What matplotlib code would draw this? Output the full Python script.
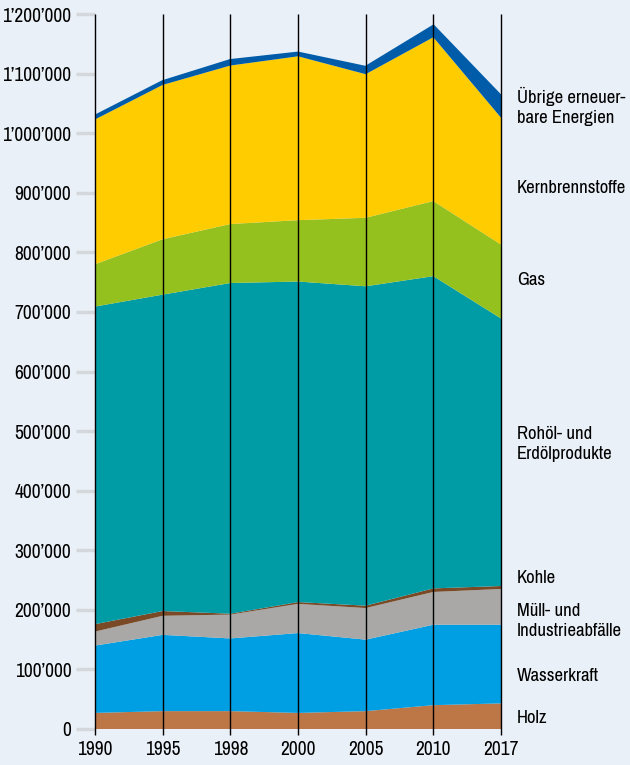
#!/usr/bin/env python3
import matplotlib
matplotlib.use("Agg")
import matplotlib.pyplot as plt
from matplotlib import font_manager
from matplotlib.ticker import FuncFormatter

# Endenergieverbrauch nach Energieträgern
YEARS = ["1990", "1995", "1998", "2000", "2005", "2010", "2017"]
HOLZ = [27000, 30000, 30000, 27000, 30000, 40000, 43000]
WASSERKRAFT = [113000, 128000, 122000, 134000, 120000, 135000, 132000]
MUELL = [23500, 32000, 40000, 49000, 53000, 55000, 60000]
KOHLE = [12500, 8000, 1500, 3000, 4000, 6000, 5000]
ROHOEL = [533000, 531000, 555000, 538000, 536000, 524000, 449000]
GAS = [71000, 93000, 99000, 103000, 115000, 126000, 124000]
KERN = [243000, 259000, 266000, 275000, 241000, 275000, 213000]
UEBRIGE = [5000, 5000, 8000, 5000, 11000, 18000, 35000]

SERIES = [HOLZ, WASSERKRAFT, MUELL, KOHLE, ROHOEL, GAS, KERN, UEBRIGE]
COLORS = ["#bd7645", "#009fe3", "#a9a8a6", "#7a4a26", "#009ca6",
          "#95c11f", "#ffcc00", "#005ca9"]
LABELS = [
    ("Übrige erneuer-\nbare Energien", 1045000),
    ("Kernbrennstoffe", 908000),
    ("Gas", 753000),
    ("Rohöl- und\nErdölprodukte", 479000),
    ("Kohle", 253000),
    ("Müll- und\nIndustrieabfälle", 182000),
    ("Wasserkraft", 89000),
    ("Holz", 18000),
]

BG = "#eaf0f7"


def pick_narrow_font():
    # most condensed regular sans face available, else DejaVu Sans
    fonts = [f for f in font_manager.fontManager.ttflist
             if f.weight in (400, "normal", "regular") and f.style == "normal"]
    for stretch in ("extra-condensed", "condensed", "semi-condensed"):
        hits = [f for f in fonts if f.stretch == stretch]
        hits.sort(key=lambda f: (f.name != "Noto Sans", f.name))
        if hits:
            return font_manager.FontProperties(fname=hits[0].fname)
    return font_manager.FontProperties(family="DejaVu Sans")


FONT = pick_narrow_font()

fig = plt.figure(figsize=(6.3, 7.65), dpi=100, facecolor=BG)
ax = fig.add_axes([95 / 630, 1 - 729 / 765, (501 - 95) / 630, (729 - 14) / 765])
ax.set_facecolor(BG)

x = list(range(len(YEARS)))
ax.stackplot(x, *SERIES, colors=COLORS, linewidth=0)

# Top edge of the stack as a blue line
tops = [sum(v) for v in zip(*SERIES)]
ax.plot(x, tops, color="#005ca9", linewidth=2.5, solid_joinstyle="miter")

ax.vlines(x, -10000, 1200000, colors="black", linewidth=1, clip_on=False, zorder=5)

ax.set_xlim(0, len(YEARS) - 1)
ax.set_ylim(0, 1200000)
ax.set_xticks(x)
ax.set_xticklabels(YEARS)
ax.set_yticks(range(0, 1200001, 100000))
ax.yaxis.set_major_formatter(FuncFormatter(lambda v, _: f"{int(v):,}".replace(",", "’")))

for spine in ax.spines.values():
    spine.set_visible(False)

ax.tick_params(axis="y", length=14, width=2.5, color="#d4d8dd", pad=3)
ax.tick_params(axis="x", length=0, pad=8)
fig.canvas.draw()
for lbl in ax.get_xticklabels() + ax.get_yticklabels():
    lbl.set_fontproperties(FONT)
    lbl.set_fontsize(14)

for text, yv in LABELS:
    ax.text(1.04, yv / 1200000, text, transform=ax.transAxes, fontproperties=FONT,
            fontsize=13.5, va="center", ha="left", linespacing=1.3)

fig.savefig("out.png", dpi=100, facecolor=BG)
